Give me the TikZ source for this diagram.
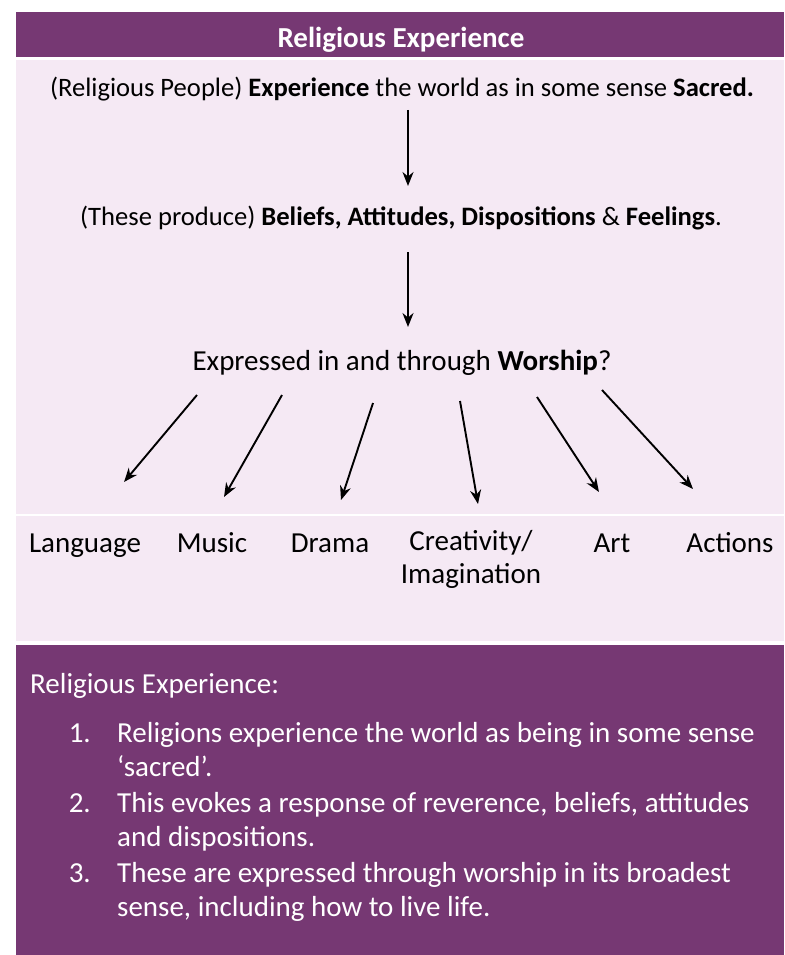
\documentclass[tikz,border=0pt]{standalone}
\usepackage{fontspec}
\setmainfont{Carlito}
\usetikzlibrary{arrows.meta}
\definecolor{purp}{RGB}{118,56,115}
\definecolor{pinkbg}{RGB}{245,233,244}
\tikzset{
  txt/.style={inner sep=0pt, text=black, text height=20pt, text depth=0pt},
  small/.style={font=\fontsize{26.6}{32}\selectfont},
  wtxt/.style={inner sep=0pt, text=white, anchor=west, text height=20pt, text depth=0pt},
  num/.style={inner sep=0pt, text=white, anchor=east, text height=20pt, text depth=0pt},
  arr/.style={line width=1.9pt, -{Stealth[length=14pt,width=11pt]}},
}
\begin{document}
\begin{tikzpicture}[x=1pt,y=-1pt, font=\fontsize{29}{33}\selectfont]
\useasboundingbox (0,0) rectangle (784,955);
\fill[white] (0,0) rectangle (784,955);
\fill[purp] (16,12) rectangle (784,57);
\fill[pinkbg] (16,60) rectangle (784,641);
\draw[white, line width=2pt] (16,515) -- (784,515);
\fill[purp] (16,645) rectangle (784,955);

\node[txt, text=white, font=\fontsize{29}{33}\selectfont\bfseries] (title) at (401,38) {Religious Experience};
\node[txt, small] (l1) at (402,87) {(Religious People) \textbf{Experience} the world as in some sense \textbf{Sacred.}};
\node[txt, small] (l2) at (401,215) {(These produce) \textbf{Beliefs, Attitudes, Dispositions} \& \textbf{Feelings}.};
\node[txt] (l3) at (402,360) {Expressed in and through \textbf{Worship}?};

\coordinate (a1s) at (408,110); \coordinate (a1e) at (408,186);
\coordinate (a2s) at (408,252); \coordinate (a2e) at (408,327);
\draw[arr] (a1s) -- (a1e);
\draw[arr] (a2s) -- (a2e);

\node[txt] (lang) at (85,542) {Language};
\node[txt] (mus) at (212,542) {Music};
\node[txt] (dra) at (330,542) {Drama};
\node[inner sep=0pt, align=center] (cre) at (471,559) {Creativity/\\Imagination};
\node[txt] (art) at (612,542) {Art};
\node[txt] (act) at (730,542) {Actions};

\coordinate (f1s) at (197,395); \coordinate (f1e) at (124,482);
\coordinate (f2s) at (282,395); \coordinate (f2e) at (224,497);
\coordinate (f3s) at (373,403); \coordinate (f3e) at (341,500);
\coordinate (f4s) at (460,401); \coordinate (f4e) at (478,504);
\coordinate (f5s) at (537,397); \coordinate (f5e) at (599,492);
\coordinate (f6s) at (602,390); \coordinate (f6e) at (693,489);
\foreach \i in {1,...,6} \draw[arr] (f\i s) -- (f\i e);

\node[wtxt] (bt) at (30,683) {Religious Experience:};
\node[num] (n1) at (91,732) {1.};
\node[wtxt] (t1a) at (117,732) {Religions experience the world as being in some sense};
\node[wtxt] (t1b) at (117,766) {‘sacred’.};
\node[num] (n2) at (91,802) {2.};
\node[wtxt] (t2a) at (117,802) {This evokes a response of reverence, beliefs, attitudes};
\node[wtxt] (t2b) at (117,836) {and dispositions.};
\node[num] (n3) at (91,872) {3.};
\node[wtxt] (t3a) at (117,872) {These are expressed through worship in its broadest};
\node[wtxt] (t3b) at (117,906) {sense, including how to live life.};
\end{tikzpicture}
\end{document}
